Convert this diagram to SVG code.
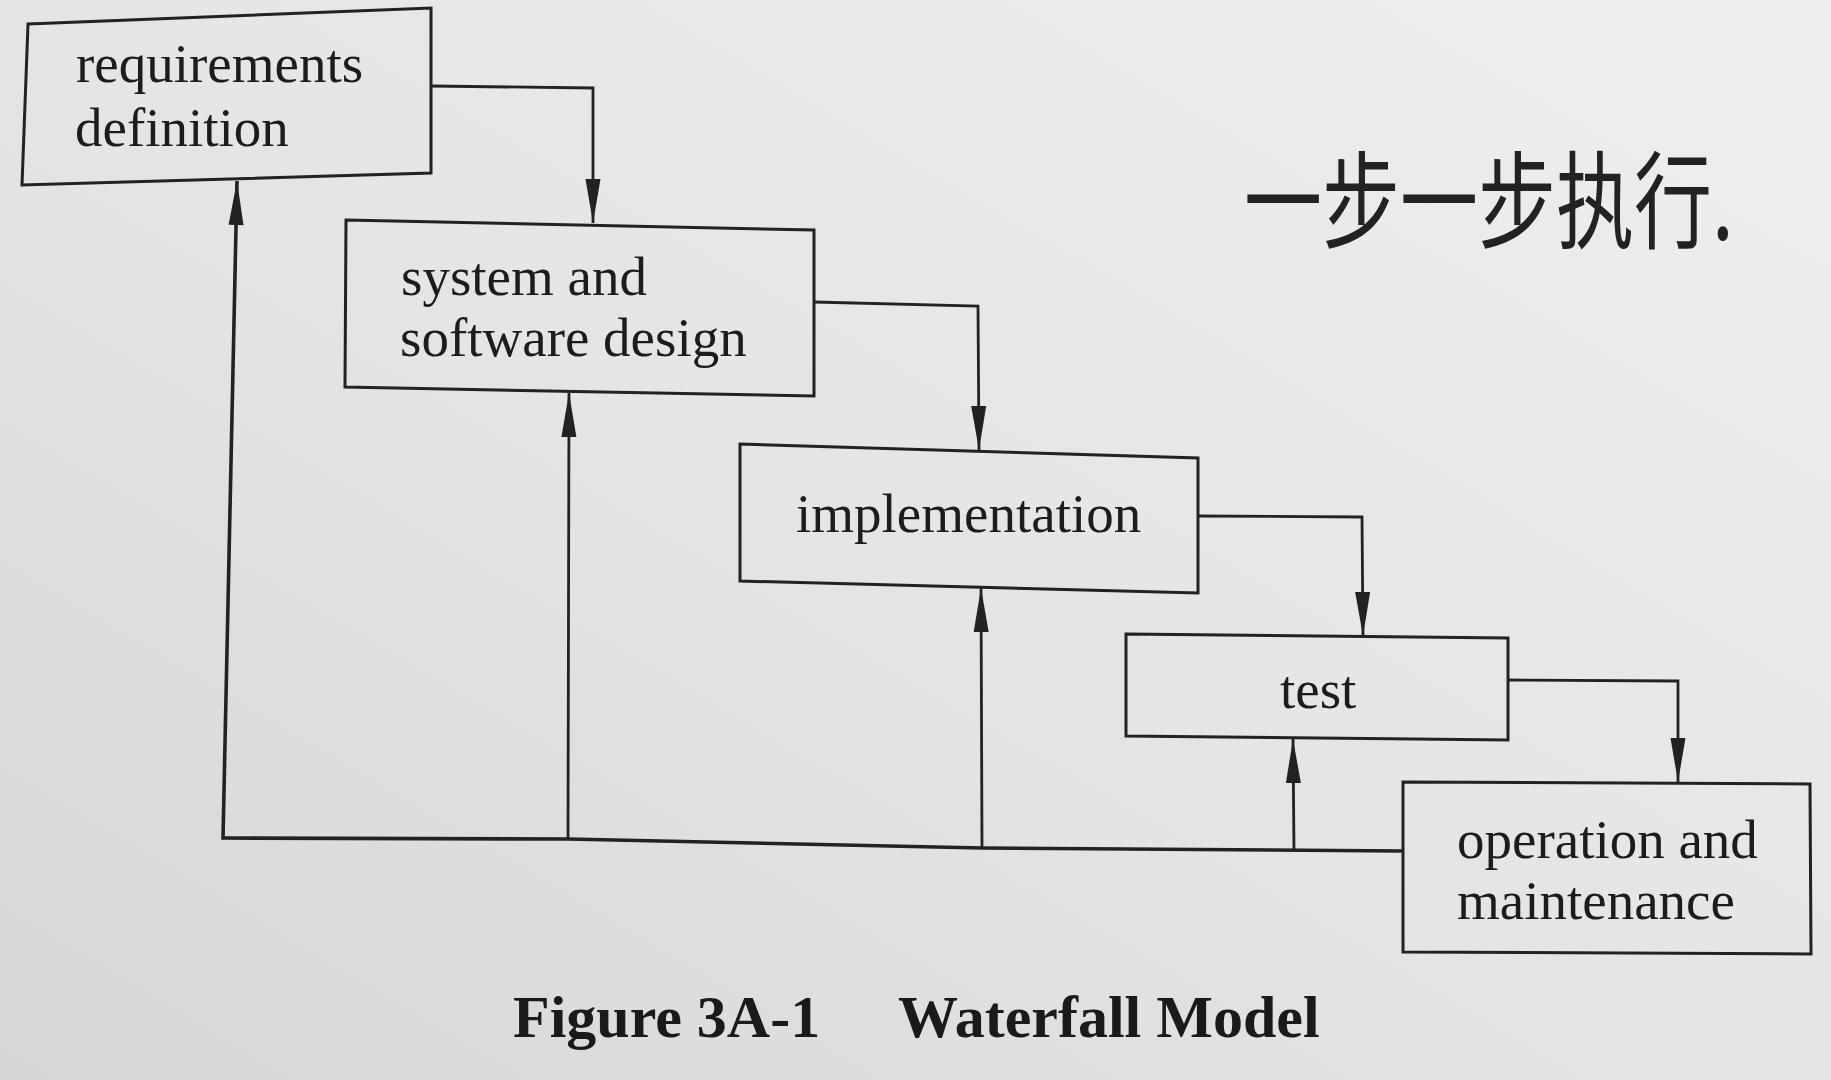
<svg xmlns="http://www.w3.org/2000/svg" width="1831" height="1080" viewBox="0 0 1831 1080">
  <defs>
    <linearGradient id="paper" x1="1" y1="0" x2="0" y2="1">
      <stop offset="0" stop-color="#efefed"/>
      <stop offset="0.55" stop-color="#e4e4e2"/>
      <stop offset="1" stop-color="#d6d6d4"/>
    </linearGradient>
    <marker id="head" markerUnits="userSpaceOnUse" markerWidth="50" markerHeight="20" viewBox="-46 -10 50 20" refX="0" refY="0" orient="auto">
      <path d="M0 0 L-44 -7.5 L-44 7.5 Z" fill="#222"/>
    </marker>
    <style>
      .box { fill: none; stroke: #222; stroke-width: 3; stroke-linejoin: miter; }
      .label { font-family: "Liberation Serif", "Times New Roman", serif; font-size: 55px; fill: #1c1c1c; }
      .wire { fill: none; stroke: #222; stroke-width: 2.8; }
      .wire.arrow { marker-end: url(#head); }
      .bus { stroke-width: 3.6; }
      .caption { font-family: "Liberation Serif", "Times New Roman", serif; font-size: 60px; font-weight: bold; fill: #1a1a1a; }
      .note { font-family: "Noto Sans CJK SC", "Noto Sans CJK TC", sans-serif; font-size: 78px; fill: #222; }
    </style>
  </defs>

  <rect width="1831" height="1080" fill="url(#paper)"/>

  <!-- phases of the waterfall -->
  <g id="requirements-definition">
    <polygon class="box" points="28,24 431,8 431,173 22,185"/>
    <text class="label" x="76" y="82">requirements</text>
    <text class="label" x="75" y="146">definition</text>
  </g>

  <g id="system-software-design">
    <polygon class="box" points="346,220 814,230 814,396 345,387"/>
    <text class="label" x="401" y="295">system and</text>
    <text class="label" x="400" y="356">software design</text>
  </g>

  <g id="implementation">
    <polygon class="box" points="740,444 1198,458 1198,593 740,581"/>
    <text class="label" x="796" y="532">implementation</text>
  </g>

  <g id="test">
    <polygon class="box" points="1126,634 1508,638 1508,740 1126,736"/>
    <text class="label" x="1280" y="708">test</text>
  </g>

  <g id="operation-maintenance">
    <polygon class="box" points="1403,782 1810,784 1811,954 1403,952"/>
    <text class="label" x="1457" y="858">operation and</text>
    <text class="label" x="1457" y="919">maintenance</text>
  </g>

  <!-- connectors: forward flow and feedback paths -->
  <g id="connectors">
    <polyline class="wire arrow" points="431,86 593,88 593,223"/>
    <polyline class="wire arrow" points="814,302 978,306 979,450"/>
    <polyline class="wire arrow" points="1198,516 1362,517 1363,636"/>
    <polyline class="wire arrow" points="1508,680 1678,681 1678,782"/>

    <polyline class="wire bus arrow" points="1403,851 982,848 568,839 223,838 237,181"/>
    <polyline class="wire arrow" points="568,839 569,393"/>
    <polyline class="wire arrow" points="982,848 981,588"/>
    <polyline class="wire arrow" points="1294,850 1293,739"/>
  </g>

  <text class="caption" x="513" y="1037">Figure 3A-1<tspan x="898">Waterfall Model</tspan></text>

  <!-- handwritten margin note, stretched to the height of the pen strokes -->
  <text class="note" transform="translate(1244 240) scale(1 1.35)">一步一步执行.</text>
</svg>
